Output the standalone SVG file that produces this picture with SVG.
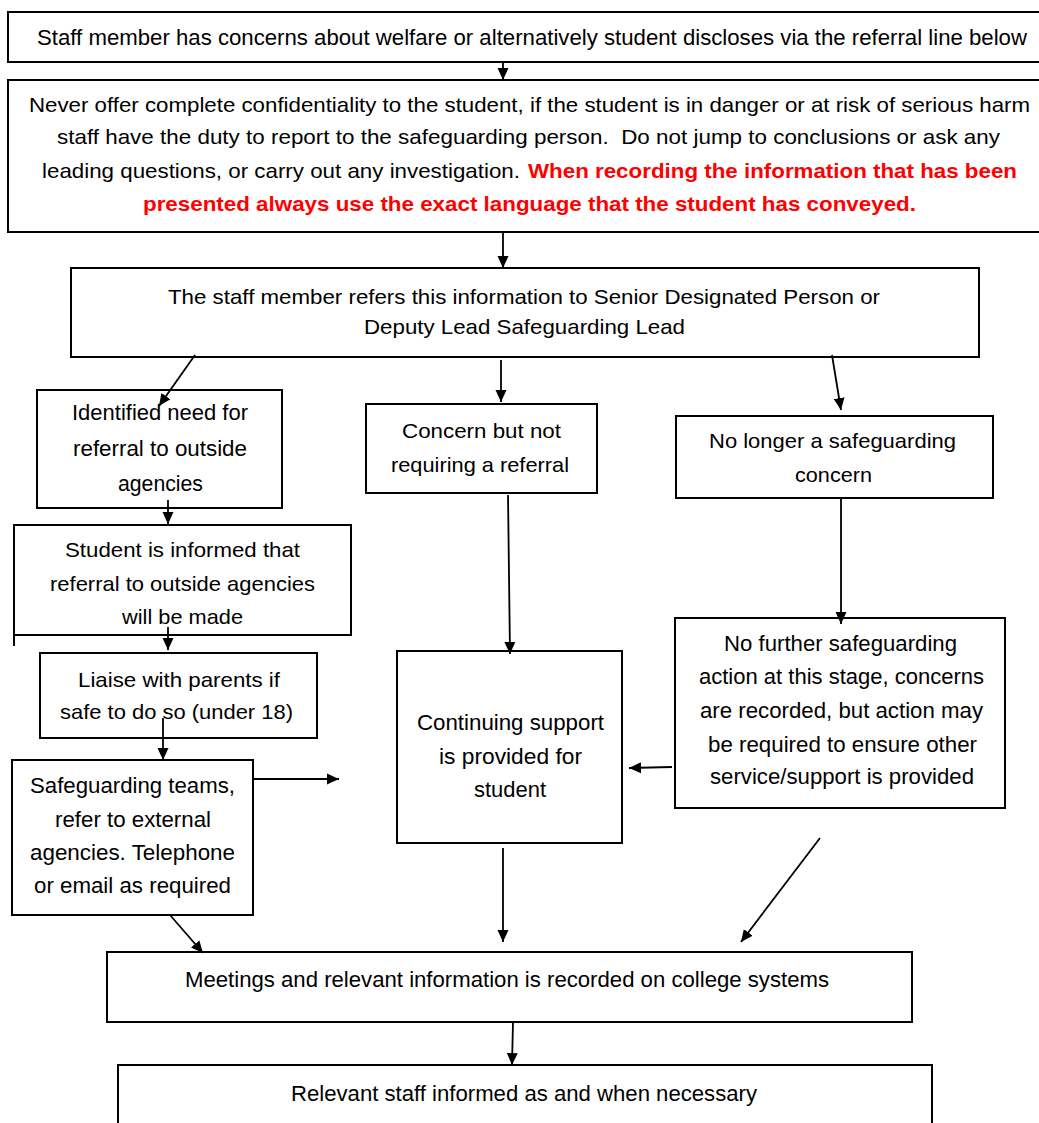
<svg xmlns="http://www.w3.org/2000/svg" width="1039" height="1123" viewBox="0 0 1039 1123">
<style>
.box{fill:#fff;stroke:#000;stroke-width:2}
.t{font-family:"Liberation Sans",Arial,sans-serif;font-size:21px;fill:#000;text-anchor:middle}
.n{font-size:22px}
.s{text-anchor:start}
.red{fill:#ff0000;font-weight:bold}
.c line{stroke:#000;stroke-width:1.8;marker-end:url(#ah)}
</style>
<defs>
<marker id="ah" markerUnits="userSpaceOnUse" markerWidth="14" markerHeight="12" refX="12" refY="6" orient="auto">
<path d="M0,0.5 L12,6 L0,11.5 z" fill="#000"/>
</marker>
</defs>
<rect width="1039" height="1123" fill="#fff"/>

<g id="n1">
<rect class="box" x="8" y="12" width="1040" height="50"/>
<text class="t n" x="532" y="45" textLength="990" lengthAdjust="spacingAndGlyphs">Staff member has concerns about welfare or alternatively student discloses via the referral line below</text>
</g>

<g id="n2">
<rect class="box" x="8" y="80" width="1040" height="152"/>
<text class="t" x="529.5" y="112" textLength="1001" lengthAdjust="spacingAndGlyphs">Never offer complete confidentiality to the student, if the student is in danger or at risk of serious harm</text>
<text class="t" x="528.5" y="144" textLength="943" lengthAdjust="spacingAndGlyphs" xml:space="preserve">staff have the duty to report to the safeguarding person.  Do not jump to conclusions or ask any</text>
<text class="t s" x="42" y="178" textLength="478" lengthAdjust="spacingAndGlyphs">leading questions, or carry out any investigation.</text>
<text class="t s red" x="528" y="178" textLength="489" lengthAdjust="spacingAndGlyphs">When recording the information that has been</text>
<text class="t red" x="529.5" y="211" textLength="773" lengthAdjust="spacingAndGlyphs">presented always use the exact language that the student has conveyed.</text>
</g>

<g id="n3">
<rect class="box" x="71" y="268" width="908" height="89"/>
<text class="t" x="524" y="304" textLength="712" lengthAdjust="spacingAndGlyphs">The staff member refers this information to Senior Designated Person or</text>
<text class="t" x="524.5" y="334" textLength="321" lengthAdjust="spacingAndGlyphs">Deputy Lead Safeguarding Lead</text>
</g>

<g id="n4">
<rect class="box" x="37" y="390" width="245" height="118"/>
<text class="t n" x="160" y="420" textLength="176" lengthAdjust="spacingAndGlyphs">Identified need for</text>
<text class="t n" x="160" y="456" textLength="174" lengthAdjust="spacingAndGlyphs">referral to outside</text>
<text class="t n" x="160.5" y="491" textLength="85" lengthAdjust="spacingAndGlyphs">agencies</text>
</g>

<g id="n5">
<rect class="box" x="366" y="404" width="231" height="89"/>
<text class="t" x="481.5" y="438" textLength="159" lengthAdjust="spacingAndGlyphs">Concern but not</text>
<text class="t" x="480" y="472" textLength="178" lengthAdjust="spacingAndGlyphs">requiring a referral</text>
</g>

<g id="n6">
<rect class="box" x="676" y="416" width="317" height="82"/>
<text class="t" x="832.5" y="448" textLength="247" lengthAdjust="spacingAndGlyphs">No longer a safeguarding</text>
<text class="t" x="833.5" y="482" textLength="77" lengthAdjust="spacingAndGlyphs">concern</text>
</g>

<g id="n7">
<rect class="box" x="14" y="525" width="337" height="110"/>
<line x1="14" y1="635" x2="14" y2="646" stroke="#000" stroke-width="2"/>
<text class="t" x="182.5" y="557" textLength="235" lengthAdjust="spacingAndGlyphs">Student is informed that</text>
<text class="t" x="182.5" y="591" textLength="265" lengthAdjust="spacingAndGlyphs">referral to outside agencies</text>
<text class="t" x="182.5" y="624" textLength="121" lengthAdjust="spacingAndGlyphs">will be made</text>
</g>

<g id="n8">
<rect class="box" x="40" y="653" width="277" height="85"/>
<text class="t" x="179" y="687" textLength="202" lengthAdjust="spacingAndGlyphs">Liaise with parents if</text>
<text class="t" x="176.5" y="719" textLength="233" lengthAdjust="spacingAndGlyphs">safe to do so (under 18)</text>
</g>

<g id="n9">
<rect class="box" x="12" y="760" width="241" height="155"/>
<text class="t n" x="132.5" y="793" textLength="205" lengthAdjust="spacingAndGlyphs">Safeguarding teams,</text>
<text class="t n" x="133" y="827" textLength="156" lengthAdjust="spacingAndGlyphs">refer to external</text>
<text class="t n" x="132.5" y="860" textLength="205" lengthAdjust="spacingAndGlyphs">agencies. Telephone</text>
<text class="t n" x="132.5" y="893" textLength="197" lengthAdjust="spacingAndGlyphs">or email as required</text>
</g>

<g id="n10">
<rect class="box" x="397" y="651" width="225" height="192"/>
<text class="t n" x="510.5" y="730" textLength="187" lengthAdjust="spacingAndGlyphs">Continuing support</text>
<text class="t n" x="510.5" y="764" textLength="143" lengthAdjust="spacingAndGlyphs">is provided for</text>
<text class="t n" x="510" y="797" textLength="72" lengthAdjust="spacingAndGlyphs">student</text>
</g>

<g id="n11">
<rect class="box" x="675" y="618" width="330" height="190"/>
<text class="t n" x="840.5" y="651" textLength="233" lengthAdjust="spacingAndGlyphs">No further safeguarding</text>
<text class="t n" x="841.5" y="684" textLength="285" lengthAdjust="spacingAndGlyphs">action at this stage, concerns</text>
<text class="t n" x="841.5" y="718" textLength="283" lengthAdjust="spacingAndGlyphs">are recorded, but action may</text>
<text class="t n" x="842.5" y="752" textLength="269" lengthAdjust="spacingAndGlyphs">be required to ensure other</text>
<text class="t n" x="842" y="784" textLength="264" lengthAdjust="spacingAndGlyphs">service/support is provided</text>
</g>

<g id="n12">
<rect class="box" x="107" y="952" width="805" height="70"/>
<text class="t n" x="507" y="987" textLength="644" lengthAdjust="spacingAndGlyphs">Meetings and relevant information is recorded on college systems</text>
</g>

<g id="n13">
<rect class="box" x="118" y="1065" width="814" height="70"/>
<text class="t n" x="524" y="1101" textLength="466" lengthAdjust="spacingAndGlyphs">Relevant staff informed as and when necessary</text>
</g>

<g id="connectors" class="c">
<line x1="503" y1="62" x2="503" y2="80"/>
<line x1="503" y1="232" x2="503" y2="268"/>
<line x1="195" y1="355" x2="159" y2="406"/>
<line x1="501" y1="360" x2="501" y2="402"/>
<line x1="832" y1="355" x2="841" y2="410"/>
<line x1="168" y1="500" x2="168" y2="524"/>
<line x1="508" y1="495" x2="510" y2="654"/>
<line x1="841" y1="498" x2="841" y2="624"/>
<line x1="168" y1="627" x2="168" y2="650"/>
<line x1="163" y1="718" x2="163" y2="760"/>
<line x1="253" y1="779" x2="339" y2="779"/>
<line x1="672" y1="767" x2="629" y2="768"/>
<line x1="503" y1="848" x2="503" y2="942"/>
<line x1="820" y1="838" x2="741" y2="942"/>
<line x1="170" y1="915" x2="203" y2="953"/>
<line x1="513" y1="1022" x2="512" y2="1065"/>
</g>
</svg>
